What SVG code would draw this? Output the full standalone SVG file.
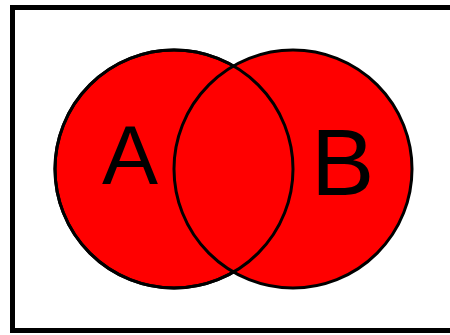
<svg xmlns="http://www.w3.org/2000/svg" width="450" height="335" viewBox="0 0 450 335">
<style>
.set{fill:#ff0000;stroke:#000;stroke-width:3}
.lbl{font-family:"Liberation Sans",Arial,sans-serif;fill:#000}
</style>
<rect x="0" y="0" width="450" height="335" fill="#fff"/>
<rect x="12.5" y="7.5" width="450" height="323" fill="#fff" stroke="#000" stroke-width="5"/>
<g id="setA"><circle class="set" cx="174" cy="169" r="119"/></g>
<g id="setB"><circle class="set" cx="293" cy="169" r="119"/></g>
<g id="outlineA"><circle cx="174" cy="169" r="119" fill="none" stroke="#000" stroke-width="3"/></g>
<g id="labels">
<text class="lbl" x="102" y="184" font-size="84">A</text>
<text class="lbl" x="311" y="195" font-size="95">B</text>
</g>
</svg>
